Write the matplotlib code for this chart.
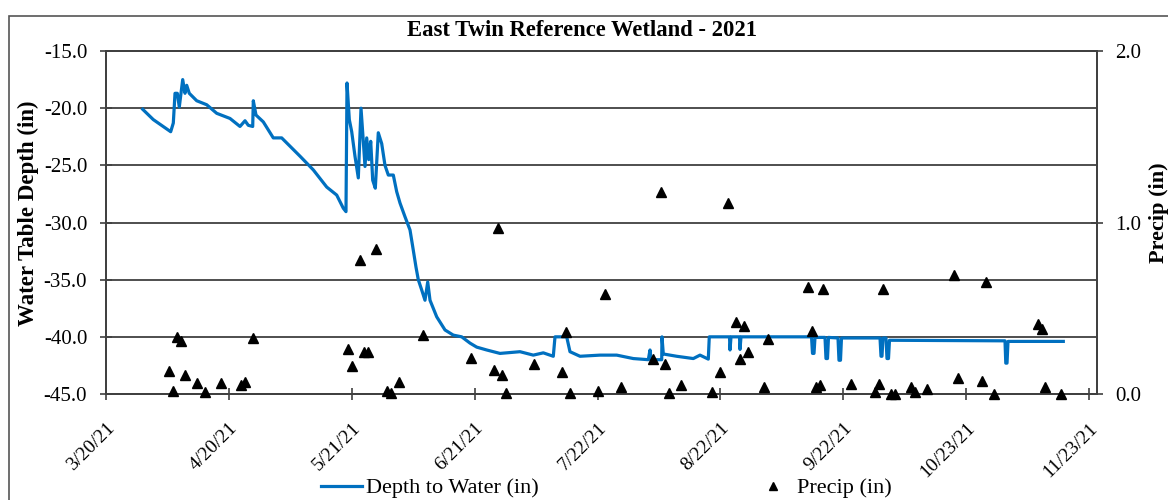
import numpy as np
import pandas as pd
import matplotlib
matplotlib.use('Agg')
import matplotlib.pyplot as plt
import matplotlib.dates as mdates
from matplotlib.ticker import FuncFormatter, MultipleLocator
from matplotlib.patches import Rectangle
from matplotlib.lines import Line2D

plt.rcParams['font.family'] = ['Liberation Serif', 'DejaVu Serif']

start = pd.Timestamp('2021-03-20')

# logger trace: days after 3/20/21, depth to water (in)
depth_day = [9.26, 11.93, 16.32, 16.98, 17.41, 17.99, 18.49, 19.35, 19.93, 20.36,
             21.01, 22.88, 25.40, 27.93, 31.28, 33.80, 35.07, 35.90, 37.01, 37.16,
             37.84, 39.68, 42.20, 44.32, 48.94, 52.30, 55.68, 58.20, 59.86, 60.54,
             60.80, 61.38, 61.98, 62.81, 63.65, 64.33, 64.91, 65.34, 65.77, 66.27,
             66.78, 67.28, 67.94, 68.69, 69.55, 70.38, 71.22, 72.48, 73.33, 74.17,
             75.43, 76.69, 77.37, 78.20, 78.78, 79.64, 80.47, 81.16, 81.74, 83.43,
             85.52, 87.61, 89.73, 91.83, 93.52, 96.04, 99.39, 104.44, 107.79, 110.32,
             112.84, 113.27, 116.22, 117.05, 119.58, 124.62, 128.84, 133.02, 136.81, 137.24,
             137.49, 140.19, 140.26, 140.59, 143.97, 148.16, 149.85, 151.94, 152.19, 157.29,
             157.42, 157.67, 159.81, 159.94, 160.19, 177.98, 178.23, 178.61, 178.86, 181.38,
             181.63, 182.01, 182.26, 184.66, 184.91, 185.29, 185.54, 195.26, 195.51, 195.76,
             196.01, 196.77, 197.02, 197.40, 197.65, 226.79, 226.99, 227.30, 227.55, 241.50]
depth_in = [-20.1, -21.0, -22.06, -21.3, -18.7, -18.7, -19.9, -17.5, -18.7, -18.0,
            -18.7, -19.35, -19.7, -20.45, -20.9, -21.6, -21.1, -21.5, -21.6, -19.35,
            -20.6, -21.2, -22.6, -22.6, -24.2, -25.4, -26.9, -27.6, -28.75, -29.05,
            -17.8, -21.0, -22.05, -24.2, -26.1, -20.0, -22.9, -25.1, -22.6, -24.5,
            -22.9, -26.3, -27.0, -22.15, -23.1, -25.0, -25.85, -25.85, -27.3, -28.3,
            -29.5, -30.65, -32.1, -33.9, -35.0, -35.9, -36.8, -35.2, -36.8, -38.25,
            -39.4, -39.85, -40.0, -40.55, -40.9, -41.15, -41.45, -41.3, -41.6, -41.4,
            -41.7, -40.0, -40.0, -41.3, -41.7, -41.6, -41.6, -41.9, -42.0, -41.15,
            -42.0, -42.0, -40.0, -41.5, -41.7, -41.9, -41.6, -41.95, -40.0, -40.0,
            -41.15, -40.0, -40.0, -41.1, -40.0, -40.0, -41.45, -41.45, -40.05, -40.05,
            -41.9, -41.9, -40.05, -40.1, -42.05, -42.05, -40.1, -40.1, -41.7, -41.7,
            -40.1, -40.1, -41.9, -41.9, -40.3, -40.35, -42.3, -42.3, -40.4, -40.4]

precip_date = ['4/5', '4/6', '4/7', '4/8', '4/9', '4/12', '4/14', '4/18', '4/23', '4/24',
               '4/26', '5/20', '5/21', '5/23', '5/24', '5/25', '5/27', '5/30', '5/31', '6/2',
               '6/8', '6/20', '6/26', '6/27', '6/28', '6/29', '7/6', '7/13', '7/14', '7/15',
               '7/22', '7/24', '7/28', '8/5', '8/7', '8/8', '8/9', '8/12', '8/20', '8/22',
               '8/24', '8/26', '8/27', '8/28', '8/29', '9/2', '9/3', '9/13', '9/14', '9/15',
               '9/16', '9/17', '9/24', '9/30', '10/1', '10/2', '10/4', '10/5', '10/9', '10/10',
               '10/13', '10/20', '10/21', '10/27', '10/28', '10/30', '11/10', '11/11', '11/12', '11/16']
precip_in = [0.134, 0.017, 0.330, 0.309, 0.111, 0.062, 0.013, 0.062, 0.052, 0.072,
             0.325, 0.260, 0.163, 0.781, 0.243, 0.247, 0.843, 0.017, 0.004, 0.072,
             0.342, 0.212, 0.140, 0.966, 0.111, 0.004, 0.173, 0.130, 0.363, 0.004,
             0.017, 0.581, 0.039, 0.202, 1.178, 0.173, 0.004, 0.052, 0.013, 0.130,
             1.115, 0.422, 0.204, 0.398, 0.247, 0.039, 0.321, 0.622, 0.369, 0.039,
             0.051, 0.612, 0.058, 0.010, 0.058, 0.612, 0.0, 0.0, 0.039, 0.010,
             0.027, 0.694, 0.092, 0.078, 0.651, 0.0, 0.408, 0.379, 0.039, 0.0]

depth_t = start + pd.to_timedelta(np.array(depth_day), unit='D')
precip_t = pd.to_datetime([d + '/2021' for d in precip_date], format='%m/%d/%Y')

fig = plt.figure(figsize=(11.68, 5), dpi=100)
ax = fig.add_axes([106/1168, 1-394/500, (1097-106)/1168, (394-51)/500])
ax2 = ax.twinx()

# chart area border
fig.patches.append(Rectangle((9/1168, -0.2), 1.2, 1.2 - 16/500, transform=fig.transFigure,
                             fill=False, edgecolor='#555555', lw=1.2))

ax.plot(depth_t, depth_in, color='#0070C0', lw=2.3, zorder=3)
ax2.plot(precip_t, precip_in, ls='none', marker='^', ms=6.5, color='black', clip_on=False, zorder=4)

ax.set_xlim(start, start + pd.Timedelta(days=250))
ax.set_ylim(-45, -15)
ax2.set_ylim(0, 2)

ticks = [start + pd.Timedelta(days=31*k) for k in range(9)]
ax.set_xticks(ticks)
ax.xaxis.set_major_formatter(FuncFormatter(
    lambda v, p: '{}/{}/{}'.format(mdates.num2date(v).month, mdates.num2date(v).day, mdates.num2date(v).strftime('%y'))))
ax.yaxis.set_major_locator(MultipleLocator(5))
ax.yaxis.set_major_formatter(FuncFormatter(lambda v, p: '%.1f' % v))
ax2.yaxis.set_major_locator(MultipleLocator(1))
ax2.yaxis.set_major_formatter(FuncFormatter(lambda v, p: '%.1f' % v))

ax.grid(axis='y', color='#404040', lw=1.3)
ax.set_axisbelow(True)
for a in (ax, ax2):
    for s in a.spines.values():
        s.set_color('#404040')
        s.set_linewidth(1.3)
ax.tick_params(axis='y', direction='inout', length=9, width=1.2, color='#404040',
               labelsize=15, pad=9)
ax.tick_params(axis='x', direction='inout', length=9, width=1.2, color='#404040',
               labelsize=14, pad=14)
ax2.tick_params(axis='y', direction='inout', length=9, width=1.2, color='#404040',
                labelsize=15, pad=8.5)
for lbl in ax.get_xticklabels():
    lbl.set_rotation(45)
    lbl.set_ha('right')
    lbl.set_rotation_mode('anchor')

fig.text(582/1168, 1-31/500, 'East Twin Reference Wetland - 2021', ha='center', va='center',
         fontsize=16.3, fontweight='bold')
fig.text(28.5/1168, 1-213/500, 'Water Table Depth (in)', rotation=90, ha='center', va='center',
         fontsize=16.5, fontweight='bold')
fig.text(1159/1168, 1-213/500, 'Precip (in)', rotation=90, ha='center', va='center',
         fontsize=16, fontweight='bold')

handles = [Line2D([], [], color='#0070C0', lw=2.3),
           Line2D([], [], ls='none', marker='^', ms=5.5, color='black')]
fig.legend(handles, ['Depth to Water (in)', 'Precip (in)'], loc='center',
           bbox_to_anchor=(606.5/1168, 1-488/500), ncol=2, frameon=False, fontsize=16,
           handlelength=1.85, handletextpad=0.18, columnspacing=9.6, borderpad=0)

fig.savefig('out.png', dpi=100)
